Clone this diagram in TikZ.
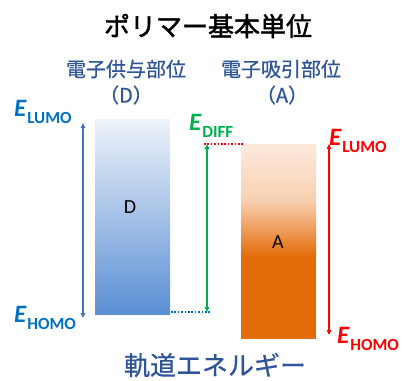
\documentclass[tikz,border=0pt]{standalone}
\usepackage{fontspec}
\setmainfont{Carlito}
\newfontfamily\jpfont[FakeBold=0.6]{Noto Sans CJK JP}
\newfontfamily\jptitle[FakeBold=1.6]{Noto Sans CJK JP}
\newfontfamily\calib{Carlito}
\usetikzlibrary{arrows.meta}
\definecolor{txtblue}{HTML}{2F5597}
\definecolor{eblue}{HTML}{0070C0}
\definecolor{arrblue}{HTML}{4472C4}
\definecolor{egreen}{HTML}{00B050}
\definecolor{ered}{HTML}{FF0000}
\definecolor{dtop}{HTML}{EEF3FA}
\definecolor{dbot}{HTML}{5B8FD4}
\definecolor{atop}{HTML}{FCE9DC}
\definecolor{amid}{HTML}{F8D0B1}
\definecolor{aorange}{HTML}{E46C0A}
\newcommand{\Elabel}[1]{{\calib\fontsize{25}{25}\selectfont\bfseries\itshape E}\kern1pt\raisebox{-7pt}{\calib\fontsize{17}{17}\selectfont\bfseries #1}}
\begin{document}
\begin{tikzpicture}[x=1pt,y=-1pt,
  jtext/.style={font=\jpfont\fontsize{20}{22}\selectfont, text=txtblue, inner sep=0pt},
  elab/.style={anchor=base west, inner sep=0pt},
  dbl/.style={{Triangle[length=5pt,width=4.5pt]}-{Triangle[length=5pt,width=4.5pt]}},
  dotline/.style={line width=1.6pt, dash pattern=on 1.6pt off 1.8pt},
  boxlabel/.style={font=\calib\fontsize{20}{20}\selectfont, inner sep=0pt}]
\useasboundingbox (0,0) rectangle (403,380);
% title
\node[font=\jptitle\fontsize{26}{28}\selectfont, inner sep=0pt] (title) at (208,26) {ポリマー基本単位};
\node[jtext] (donor) at (126,69) {電子供与部位};
\node[jtext] (donorD) at (126,95) {（D）};
\node[jtext] (acc) at (281,69) {電子吸引部位};
\node[jtext] (accA) at (282,95) {（A）};
\node[font=\jpfont\fontsize{26}{28}\selectfont, text=txtblue, inner sep=0pt] (orbital) at (215,365) {軌道エネルギー};
% boxes
\shade[top color=dtop, bottom color=dbot] (95,119) rectangle (170,314);
\node[minimum width=75pt, minimum height=195pt, inner sep=0pt] (Dbox) at (132.5,216.5) {};
\fill[aorange] (241,256) rectangle (316,339);
\shade[top color=amid, bottom color=aorange] (241,200) rectangle (316,256.5);
\shade[top color=atop, bottom color=amid] (241,144) rectangle (316,200.5);
\node[minimum width=75pt, minimum height=195pt, inner sep=0pt] (Abox) at (278.5,241.5) {};
\node[boxlabel] (Dl) at (130,207) {D};
\node[boxlabel] (Al) at (278,242) {A};
% coordinates
\coordinate (bTop) at (83,123);
\coordinate (bBot) at (83,318);
\coordinate (gTop) at (207,144);
\coordinate (gBot) at (207,312);
\coordinate (rTop) at (329,144);
\coordinate (rBot) at (329,335);
\coordinate (rdL) at (204,144);
\coordinate (rdR) at (243,144);
\coordinate (bdL) at (171,312);
\coordinate (bdR) at (210,312);
% dotted lines
\draw[dotline, ered] (rdL) -- (rdR);
\draw[dotline, eblue] (bdL) -- (bdR);
% arrows
\draw[dbl, arrblue, line width=1.5pt] (bTop) -- (bBot);
\draw[dbl, egreen, line width=1.8pt] (gTop) -- (gBot);
\draw[dbl, ered, line width=1.5pt] (rTop) -- (rBot);
% energy labels
\node[elab, text=eblue] (bL) at (14,116) {\Elabel{LUMO}};
\node[elab, text=eblue] (bH) at (14,322) {\Elabel{HOMO}};
\node[elab, text=egreen] (gD) at (189,130) {\Elabel{DIFF}};
\node[elab, text=ered] (rL) at (329,145) {\Elabel{LUMO}};
\node[elab, text=ered] (rH) at (337,343) {\Elabel{HOMO}};
\end{tikzpicture}
\end{document}
